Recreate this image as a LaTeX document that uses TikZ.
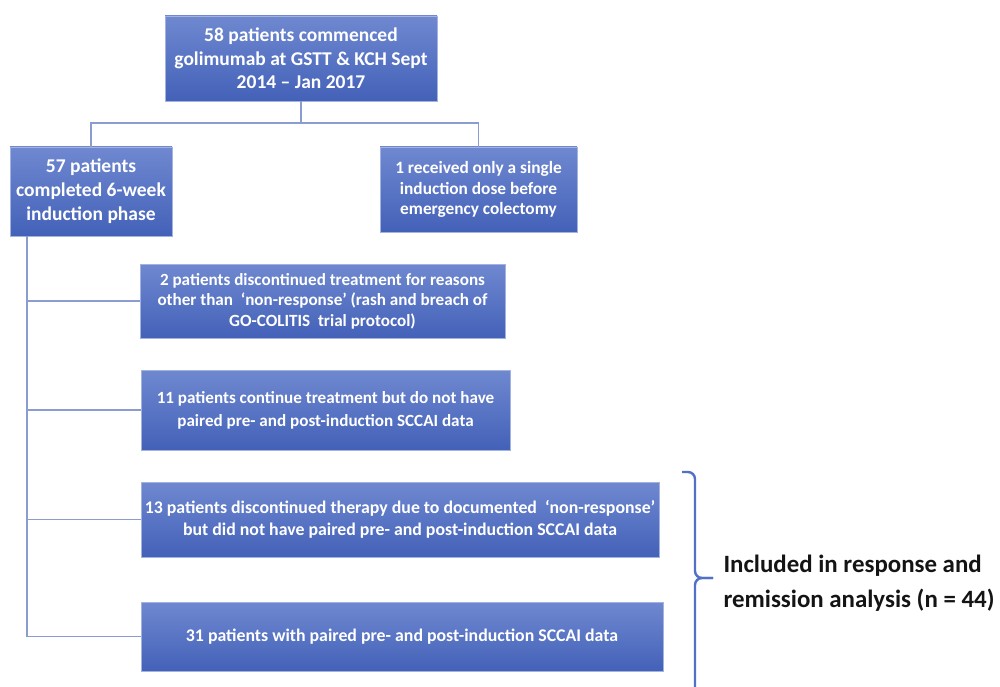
\documentclass[tikz,border=0pt]{standalone}
\usepackage{fontspec}
\setmainfont{Carlito}
\definecolor{boxtop}{HTML}{6F88D0}
\definecolor{boxbot}{HTML}{4361B8}
\definecolor{boxline}{HTML}{A3B3E0}
\definecolor{conn}{HTML}{8A9CD0}
\definecolor{bracec}{HTML}{5270C6}
\tikzset{
  flowbox/.style={rectangle, draw=boxline, line width=0.8pt, top color=boxtop, bottom color=boxbot,
    text=white, align=center, inner sep=0pt, font=\bfseries},
  link/.style={draw=conn, line width=1.6pt},
  bracket/.style={draw=bracec, line width=2.4pt, rounded corners=7pt},
}
\begin{document}
\begin{tikzpicture}[x=1pt,y=-1pt]
\useasboundingbox (0,0) rectangle (1000,687);
\node[flowbox, minimum width=272pt, minimum height=85pt, font=\fontsize{19.5}{23.5}\selectfont\bfseries] (top) at (301,58.5)
  {58 patients commenced\\golimumab at GSTT \& KCH Sept\\2014 -- Jan 2017};
\node[flowbox, minimum width=162pt, minimum height=89pt, font=\fontsize{19.5}{24}\selectfont\bfseries] (left) at (91,191.5)
  {57 patients\\completed 6-week\\induction phase};
\node[flowbox, minimum width=197pt, minimum height=85pt, font=\fontsize{17.3}{20.5}\selectfont\bfseries] (right) at (478.5,189.5)
  {1 received only a single\\induction dose before\\emergency colectomy};
\node[flowbox, minimum width=365pt, minimum height=74pt, font=\fontsize{17.1}{20.5}\selectfont\bfseries] (b3) at (322.5,301)
  {2 patients discontinued treatment for reasons\\other than \ `non-response' (rash and breach of\\GO-COLITIS \ trial protocol)};
\node[flowbox, minimum width=369pt, minimum height=80pt, font=\fontsize{17.1}{23}\selectfont\bfseries] (b4) at (325.5,410)
  {11 patients continue treatment but do not have\\paired pre- and post-induction SCCAI data};
\node[flowbox, minimum width=518pt, minimum height=75pt, font=\fontsize{17.8}{22}\selectfont\bfseries] (b5) at (400,519.5)
  {13 patients discontinued therapy due to documented \ `non-response'\\but did not have paired pre- and post-induction SCCAI data};
\node[flowbox, minimum width=522pt, minimum height=69pt, font=\fontsize{17.8}{22}\selectfont\bfseries] (b6) at (402,636.5)
  {31 patients with paired pre- and post-induction SCCAI data};
\coordinate (j) at (301,123);
\coordinate (s0) at (27,236);
\draw[link] (top.south) -- (j);
\draw[link] (left.north) |- (j) -| (right.north);
\draw[link] (s0) |- (b6.west);
\draw[link] (s0 |- b3.west) -- (b3.west);
\draw[link] (s0 |- b4.west) -- (b4.west);
\draw[link] (s0 |- b5.west) -- (b5.west);
\coordinate (btop) at (682,472);
\coordinate (btip) at (713,578);
\coordinate (bbot) at (695,700);
\draw[bracket] (btop) -| (695,578) -- (btip);
\draw[bracket] (btip) -| (bbot);
\node[anchor=west, align=left, font=\fontsize{24.9}{35}\selectfont\bfseries, text=black!92] (lab) at (720,583.5)
  {Included in response and\\remission analysis (n = 44)};
\end{tikzpicture}
\end{document}
